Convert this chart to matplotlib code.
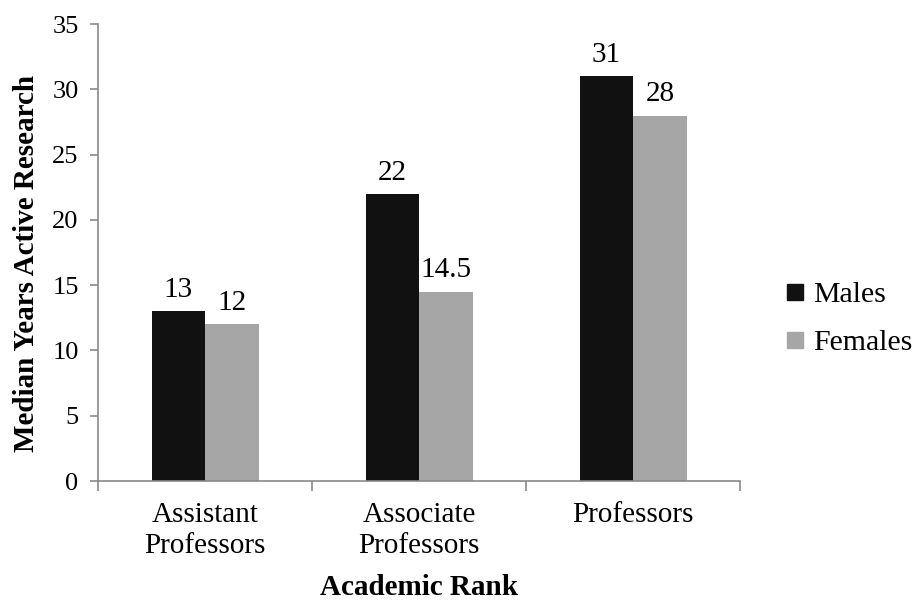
import numpy as np
import matplotlib.pyplot as plt
from matplotlib.lines import Line2D

ranks = ['Assistant\nProfessors', 'Associate\nProfessors', 'Professors']
males = [13, 22, 31]
females = [12, 14.5, 28]
value_labels_m = ['13', '22', '31']
value_labels_f = ['12', '14.5', '28']

plt.rcParams['font.family'] = 'Liberation Serif'
fs = 21
fs_tick = 19
fs_lab = 21

fig = plt.figure(figsize=(9.18, 6.04), dpi=100)
ax = fig.add_axes([0.1068, 0.2036, 0.6994, 0.7564])

x = np.arange(len(ranks))
w = 0.25
spine_col = '#898989'
black = '#111111'
grey = '#a6a6a6'

bm = ax.bar(x - w / 2, males, w, color=black, label='Males')
bf = ax.bar(x + w / 2, females, w, color=grey, label='Females')

for bars, labs in ((bm, value_labels_m), (bf, value_labels_f)):
    for b, t in zip(bars, labs):
        ax.annotate(t, (b.get_x() + b.get_width() / 2, b.get_height()),
                    xytext=(0, 6), textcoords='offset points',
                    ha='center', va='bottom', fontsize=fs, family='Liberation Serif')

ax.set_xlim(-0.5, 2.5)
ax.set_ylim(0, 35)
ax.set_yticks(np.arange(0, 36, 5))
ax.tick_params(axis='y', labelsize=fs_tick, color=spine_col, length=6, width=1.2, pad=8)

# category labels centred, tick marks on group boundaries
ax.set_xticks(x)
ax.set_xticklabels(ranks, fontsize=fs, linespacing=1.28, family='Liberation Serif')
ax.tick_params(axis='x', which='major', length=0, pad=15)
ax.set_xticks([-0.5, 0.5, 1.5, 2.5], minor=True)
ax.tick_params(axis='x', which='minor', length=7, width=1.2, color=spine_col)
for lab in ax.get_yticklabels():
    lab.set_family('Liberation Serif')

for s in ('top', 'right'):
    ax.spines[s].set_visible(False)
for s in ('left', 'bottom'):
    ax.spines[s].set_color(spine_col)
    ax.spines[s].set_linewidth(1.2)

ax.set_ylabel('Median Years Active Research', fontsize=fs_lab, fontweight='bold',
              family='Liberation Serif')
ax.yaxis.set_label_coords(-0.112, 0.477)
ax.yaxis.label.set_va('center')
ax.set_xlabel('Academic Rank', fontsize=fs_lab, fontweight='bold',
              family='Liberation Serif')
ax.xaxis.set_label_coords(0.5, -0.25)
ax.xaxis.label.set_va('baseline')

handles = [Line2D([], [], marker='s', linestyle='none', markersize=12,
                  markerfacecolor=c, markeredgecolor=c) for c in (black, grey)]
ax.legend(handles, ['Males', 'Females'], loc='center left', bbox_to_anchor=(1.03, 0.355),
          frameon=False, prop={'family': 'Liberation Serif', 'size': 21.5},
          handlelength=0.6, handletextpad=0.3, labelspacing=0.72)

fig.savefig('out.png', dpi=100, facecolor='white')
